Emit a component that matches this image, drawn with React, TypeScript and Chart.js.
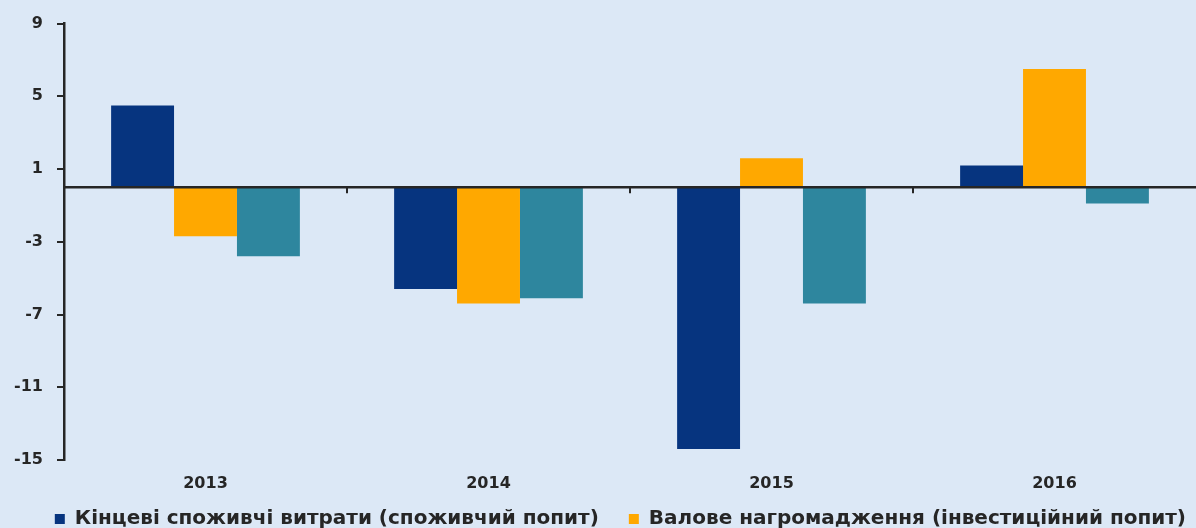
import React, { useEffect, useRef } from "react";
import { Chart, registerables } from "chart.js";

Chart.register(...registerables);

const categories = ["2013", "2014", "2015", "2016"];
const consumption = [4.5, -5.6, -14.4, 1.2];
const investment = [-2.7, -6.4, 1.6, 6.5];
const netExports = [-3.8, -6.1, -6.4, -0.9];
const seriesLabels = [
  "Кінцеві споживчі витрати (споживчий попит)",
  "Валове нагромадження (інвестиційний попит)",
  "Чистий експорт",
];
const yTicks = [9, 5, 1, -3, -7, -11, -15];
const seriesColors = ["#06347f", "#ffa800", "#2e869e"];

const BG = "#dce8f6";
const INK = "#262626";
const FONT = "'DejaVu Sans', 'Liberation Sans', sans-serif";

const zeroLinePlugin = {
  id: "zeroLine",
  afterDatasetsDraw(chart: any) {
    const { ctx, chartArea, scales } = chart;
    const y = scales.y.getPixelForValue(0);
    ctx.save();
    ctx.strokeStyle = INK;
    ctx.lineWidth = 2.5;
    ctx.beginPath();
    ctx.moveTo(chartArea.left, y);
    ctx.lineTo(chartArea.right, y);
    ctx.stroke();
    ctx.lineWidth = 2;
    const xs = scales.x;
    for (let i = 0; i < categories.length - 1; i++) {
      const xp = (xs.getPixelForValue(i) + xs.getPixelForValue(i + 1)) / 2;
      ctx.beginPath();
      ctx.moveTo(xp, y);
      ctx.lineTo(xp, y + 6);
      ctx.stroke();
    }
    ctx.restore();
  },
};

const bgPlugin = {
  id: "bgFill",
  beforeDraw(chart: any) {
    const { ctx, width, height } = chart;
    ctx.save();
    ctx.fillStyle = BG;
    ctx.fillRect(0, 0, width, height);
    ctx.restore();
  },
};

export default function App() {
  const ref = useRef<HTMLCanvasElement>(null);
  useEffect(() => {
    document.body.style.margin = "0";
    document.body.style.background = BG;
    const chart = new Chart(ref.current!, {
      type: "bar",
      data: {
        labels: categories,
        datasets: [
          { label: seriesLabels[0], data: consumption, backgroundColor: seriesColors[0] },
          { label: seriesLabels[1], data: investment, backgroundColor: seriesColors[1] },
          { label: seriesLabels[2], data: netExports, backgroundColor: seriesColors[2] },
        ],
      },
      options: {
        animation: false,
        responsive: false,
        maintainAspectRatio: false,
        layout: { padding: { left: 0, right: 0, top: 14, bottom: -11 } },
        datasets: { bar: { barPercentage: 1, categoryPercentage: 0.667 } },
        scales: {
          x: {
            grid: { display: false, drawTicks: false },
            border: { display: false },
            ticks: { color: INK, font: { family: FONT, weight: "bold", size: 16 }, padding: 14 },
            afterFit(axis: any) {
              axis.height = 39;
            },
          },
          y: {
            min: -15,
            max: 9,
            afterBuildTicks(axis: any) {
              axis.ticks = yTicks.map((v) => ({ value: v }));
            },
            afterFit(axis: any) {
              axis.width = 64;
            },
            grid: { drawOnChartArea: false, tickLength: 7, tickColor: INK, lineWidth: 2 },
            border: { color: INK, width: 2.5 },
            ticks: { color: INK, font: { family: FONT, weight: "bold", size: 16 }, padding: 14 },
          },
        },
        plugins: {
          legend: {
            position: "bottom",
            align: "end",
            labels: {
              color: INK,
              boxWidth: 10,
              boxHeight: 10,
              padding: 10,
              font: { family: FONT, weight: "bold", size: 20 },
              generateLabels: (chart: any) =>
                chart.data.datasets.slice(0, 2).map((ds: any, i: number) => ({
                  text: i === 0 ? ds.label + "\u2003" : ds.label,
                  fillStyle: ds.backgroundColor,
                  strokeStyle: ds.backgroundColor,
                  lineWidth: 0,
                  fontColor: INK,
                  hidden: false,
                  datasetIndex: i,
                })),
            },
          },
          tooltip: { enabled: false },
        },
      },
      plugins: [bgPlugin, zeroLinePlugin],
    });
    return () => chart.destroy();
  }, []);
  return (
    <div style={{ width: 1196, height: 528, background: BG }}>
      <canvas ref={ref} width={1196} height={528} />
    </div>
  );
}
